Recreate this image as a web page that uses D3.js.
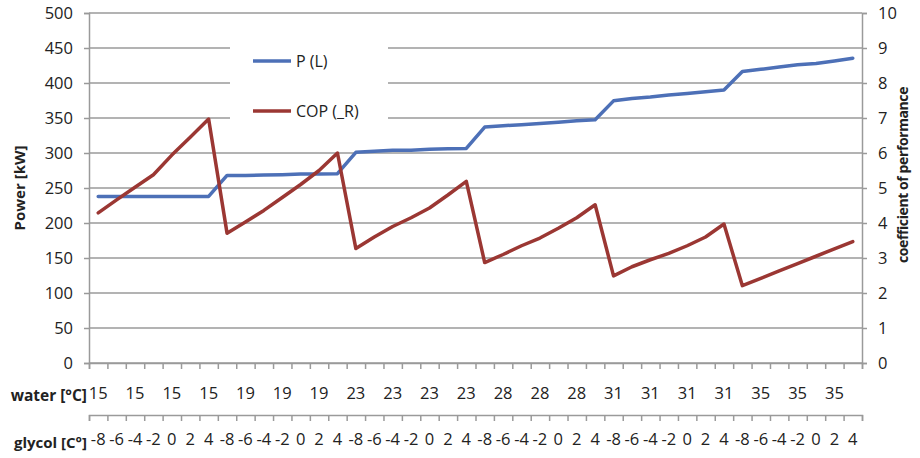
<!DOCTYPE html>
<html>
<head>
<meta charset="utf-8">
<script src="https://cdn.jsdelivr.net/npm/d3@7"></script>
<style>
    body { margin: 0; background: #fff; }
    text { font-family: "Open Sans", sans-serif; fill: #222; }
    .title { font-weight: bold; }
</style>
</head>
<body>
<svg id="chart" width="920" height="458"></svg>
<script>
// Data
const waterTemps = [15, 19, 23, 28, 31, 35];
const glycolTemps = [-8, -6, -4, -2, 0, 2, 4];
const powerKW = [
    238, 238, 238, 238, 238, 238, 238,
    268, 268, 268.5, 269, 270, 270, 270.5,
    301, 302.5, 304, 304, 305.5, 306, 306.5,
    337, 339, 340.5, 342, 344, 346, 347.5,
    374.5, 378, 380, 383, 385, 387.5, 390,
    416.5, 419.5, 423, 426, 428, 431.5, 435.5
];
const cop = [
    4.29, 4.66, 5.02, 5.38, 5.94, 6.45, 6.97,
    3.71, 4.03, 4.36, 4.73, 5.1, 5.5, 6.0,
    3.27, 3.6, 3.9, 4.15, 4.43, 4.8, 5.19,
    2.87, 3.1, 3.35, 3.57, 3.85, 4.15, 4.52,
    2.49, 2.75, 2.95, 3.13, 3.35, 3.6, 3.97,
    2.21, 2.42, 2.63, 2.84, 3.05, 3.26, 3.47
];
const powerTicks = d3.range(0, 501, 50);
const copTicks = d3.range(0, 11, 1);
const legendLabels = ['P (L)', 'COP (_R)'];
const colors = ['#4d70b7', '#9b3733'];

// Category table built from the temperature lists
const categories = waterTemps.flatMap(w => glycolTemps.map(g => ({ water: w, glycol: g })));

// Plot box
const plot = { left: 89, right: 862, top: 13, bottom: 363 };
const gridColor = '#9a9a9a';

const svg = d3.select('#chart');

// Scales
const x = d3.scaleBand()
    .domain(d3.range(categories.length))
    .range([plot.left, plot.right])
    .padding(0);
const xEdge = d3.scaleLinear()
    .domain([0, categories.length])
    .range([plot.left, plot.right]);
const yP = d3.scaleLinear().domain([0, 500]).range([plot.bottom, plot.top]);
const yC = d3.scaleLinear().domain([0, 10]).range([plot.bottom, plot.top]);

// Gridlines
svg.append('g')
    .selectAll('line')
    .data(powerTicks)
    .join('line')
        .attr('x1', plot.left)
        .attr('x2', plot.right)
        .attr('y1', d => yP(d))
        .attr('y2', d => yP(d))
        .attr('stroke', gridColor)
        .attr('stroke-width', 1.5);

// Left axis
const leftAxis = svg.append('g')
    .attr('transform', `translate(${plot.left},0)`)
    .call(d3.axisLeft(yP).tickValues(powerTicks).tickSize(5).tickPadding(11));
// Right axis
const rightAxis = svg.append('g')
    .attr('transform', `translate(${plot.right},0)`)
    .call(d3.axisRight(yC).tickValues(copTicks).tickSize(5).tickPadding(11));

[leftAxis, rightAxis].forEach(ax => {
    ax.select('.domain').attr('stroke', gridColor).attr('stroke-width', 1.5);
    ax.selectAll('.tick line').attr('stroke', gridColor).attr('stroke-width', 1.5);
    ax.selectAll('.tick text')
        .style('font-family', '"Open Sans", sans-serif')
        .style('font-size', '16.5px')
        .attr('fill', '#1a1a1a');
});

// Bottom axis: category boundary ticks
const bottomTicks = svg.append('g')
    .attr('transform', `translate(0,${plot.bottom})`)
    .call(d3.axisBottom(xEdge).tickValues(d3.range(categories.length + 1)).tickSize(6).tickFormat(''));
bottomTicks.select('.domain').attr('stroke', gridColor).attr('stroke-width', 1.5);
bottomTicks.selectAll('.tick line').attr('stroke', gridColor).attr('stroke-width', 1.5);

// Water labels on every second category
const waterAxis = svg.append('g')
    .attr('transform', `translate(0,${plot.bottom})`)
    .call(d3.axisBottom(x).tickSize(0).tickPadding(24)
        .tickFormat(i => i % 2 === 0 ? categories[i].water : ''));
waterAxis.select('.domain').remove();
waterAxis.selectAll('.tick text')
    .style('font-family', '"Open Sans", sans-serif')
    .style('font-size', '16.5px')
    .attr('fill', '#1a1a1a');

// Glycol axis
const glycolY = 415;
const glycolAxis = svg.append('g')
    .attr('transform', `translate(0,${glycolY})`)
    .call(d3.axisBottom(xEdge).tickValues(d3.range(categories.length + 1)).tickSize(6).tickFormat(''));
glycolAxis.select('.domain').attr('stroke', gridColor).attr('stroke-width', 1.5);
glycolAxis.selectAll('.tick line').attr('stroke', gridColor).attr('stroke-width', 1.5);

const glycolLabels = svg.append('g')
    .attr('transform', `translate(0,${glycolY})`)
    .call(d3.axisBottom(x).tickSize(0).tickPadding(18)
        .tickFormat(i => categories[i].glycol));
glycolLabels.select('.domain').remove();
glycolLabels.selectAll('.tick text')
    .style('font-family', '"Open Sans", sans-serif')
    .style('font-size', '16.5px')
    .attr('fill', '#1a1a1a');

// Row titles
svg.append('text')
    .attr('class', 'title')
    .attr('x', 87).attr('y', 401)
    .attr('text-anchor', 'end')
    .style('font-size', '15.5px')
    .text('water [°C]');
svg.append('text')
    .attr('class', 'title')
    .attr('x', 87).attr('y', 448)
    .attr('text-anchor', 'end')
    .style('font-size', '15px')
    .text('glycol [C°]');

// Axis titles
svg.append('text')
    .attr('class', 'title')
    .attr('transform', 'translate(25,188) rotate(-90)')
    .attr('text-anchor', 'middle')
    .style('font-size', '15px')
    .text('Power [kW]');
svg.append('text')
    .attr('class', 'title')
    .attr('transform', 'translate(908,175) rotate(-90)')
    .attr('text-anchor', 'middle')
    .style('font-size', '14px')
    .style('letter-spacing', '-0.4px')
    .text('coefficient of performance');

// Lines
const lineP = d3.line()
    .x((d, i) => x(i) + x.bandwidth() / 2)
    .y(d => yP(d));
const lineC = d3.line()
    .x((d, i) => x(i) + x.bandwidth() / 2)
    .y(d => yC(d));

svg.append('path')
    .datum(powerKW)
    .attr('d', lineP)
    .attr('fill', 'none')
    .attr('stroke', colors[0])
    .attr('stroke-width', 3.5)
    .attr('stroke-linejoin', 'round')
    .attr('stroke-linecap', 'round');
svg.append('path')
    .datum(cop)
    .attr('d', lineC)
    .attr('fill', 'none')
    .attr('stroke', colors[1])
    .attr('stroke-width', 3.5)
    .attr('stroke-linejoin', 'round')
    .attr('stroke-linecap', 'round');

// Legend
const legend = svg.append('g');
legend.append('rect')
    .attr('x', 230).attr('y', 30)
    .attr('width', 158).attr('height', 105)
    .attr('fill', '#fff');
const items = legend.selectAll('g.item')
    .data(legendLabels)
    .join('g')
        .attr('class', 'item')
        .attr('transform', (d, i) => `translate(253,${61 + i * 50})`);
items.append('line')
    .attr('x1', 0).attr('x2', 38)
    .attr('stroke', (d, i) => colors[i])
    .attr('stroke-width', 3.5);
items.append('text')
    .attr('x', 43).attr('y', 6)
    .style('font-size', '16px')
    .text(d => d);
</script>
</body>
</html>
